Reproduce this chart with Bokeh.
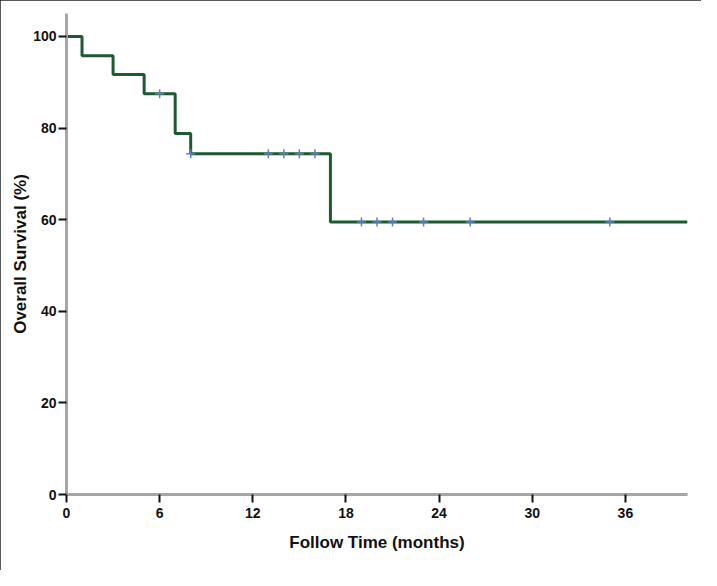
from bokeh.plotting import figure
from bokeh.models import Range1d, FixedTicker
from bokeh.embed import file_html
from bokeh.resources import INLINE

# Kaplan-Meier step data (months, survival %)
step_times = [0, 1, 3, 5, 7, 8, 17, 40]
step_surv = [100, 95.8, 91.7, 87.5, 78.8, 74.4, 59.5, 59.5]

# Censored observations
censor_times = [6, 8, 13, 14, 15, 16, 19, 20, 21, 23, 26, 35]
censor_surv = [87.5, 74.4, 74.4, 74.4, 74.4, 74.4, 59.5, 59.5, 59.5, 59.5, 59.5, 59.5]

x_ticks = [0, 6, 12, 18, 24, 30, 36]
y_ticks = [0, 20, 40, 60, 80, 100]

p = figure(width=701, height=570, output_backend="svg", toolbar_location=None,
           x_range=Range1d(0, 40), y_range=Range1d(0, 105),
           min_border_left=66, min_border_right=14, min_border_top=13, min_border_bottom=76)
p.styles = {"outline": "2px solid #222222", "outline-offset": "-2px"}

p.grid.visible = False
p.outline_line_color = None
p.background_fill_color = "white"
p.border_fill_color = "white"

for ax in (p.xaxis[0], p.yaxis[0]):
    ax.axis_line_color = "#a6a6a6"
    ax.axis_line_width = 3
    ax.major_tick_line_color = "#111111"
    ax.major_tick_line_width = 2
    ax.major_tick_out = 8
    ax.major_tick_in = 0
    ax.minor_tick_line_color = None
    ax.major_label_text_font = "Liberation Sans"
    ax.major_label_text_font_style = "bold"
    ax.major_label_text_font_size = "14px"
    ax.major_label_text_color = "#111111"
    ax.axis_label_text_font = "Liberation Sans"
    ax.axis_label_text_font_style = "bold"
    ax.axis_label_text_font_size = "17px"
    ax.axis_label_text_color = "#111111"

p.xaxis[0].ticker = FixedTicker(ticks=x_ticks)
p.yaxis[0].ticker = FixedTicker(ticks=y_ticks)
p.xaxis[0].axis_label = "Follow Time (months)"
p.yaxis[0].axis_label = "Overall Survival (%)"
p.xaxis[0].major_label_standoff = 5
p.yaxis[0].major_label_standoff = 2
p.xaxis[0].axis_label_standoff = 12
p.yaxis[0].axis_label_standoff = 0

p.step(step_times, step_surv, mode="after", line_color="#1d5a32", line_width=3)
p.scatter(censor_times, censor_surv, marker="cross", size=9,
          line_color="#5a7fc4", line_width=1.5)

open("out.html", "w").write(file_html(p, INLINE))
